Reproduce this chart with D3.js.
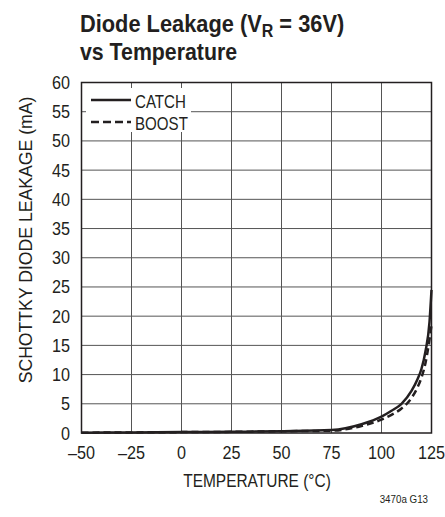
<!DOCTYPE html>
<html>
<head>
<meta charset="utf-8">
<script src="https://cdn.jsdelivr.net/npm/d3@7"></script>
<style>
  body { margin: 0; background: #fff; }
  svg { display: block; }
  text { font-family: "Liberation Sans", Arial, sans-serif; fill: #231f20; }
</style>
</head>
<body>
<svg></svg>
<script>
// Temperature (°C) sample points
const temps = [-50, -25, 0, 25, 50, 75, 90, 100, 105, 110, 115, 118, 120, 122, 124, 125];
// leakage in mA
const catchLeak = [0.05, 0.1, 0.15, 0.2, 0.3, 0.5, 1.5, 2.8, 3.8, 5.0, 7.2, 9.2, 11, 14, 19, 24.5];
const boostLeak = [0.05, 0.1, 0.15, 0.2, 0.3, 0.4, 1.2, 2.3, 3.1, 4.2, 6.0, 7.8, 9.5, 12, 16, 18.5];

const xTicks = [-50, -25, 0, 25, 50, 75, 100, 125];
const yTicks = [0, 5, 10, 15, 20, 25, 30, 35, 40, 45, 50, 55, 60];

const width = 445, height = 517;
const margin = { left: 81.5, right: 13.5, top: 82.5, bottom: 84 };

const svg = d3.select("svg")
  .attr("width", width)
  .attr("height", height);

const x = d3.scaleLinear().domain([-50, 125]).range([margin.left, width - margin.right]);
const y = d3.scaleLinear().domain([0, 60]).range([height - margin.bottom, margin.top]);

// the original uses a condensed face, so squeeze text horizontally
function label(parent, px, py, str, size, sx, anchor, rot) {
  const t = parent.append("text")
    .attr("transform", `translate(${px},${py})` + (rot ? ` rotate(${rot})` : "") + ` scale(${sx},1)`)
    .attr("text-anchor", anchor || "start")
    .style("font-size", size + "px");
  if (str != null) t.text(str);
  return t;
}

// title
const title = label(svg, 80, 32, null, 24.5, 0.89, "start").style("font-weight", "bold");
title.append("tspan").text("Diode Leakage (V");
title.append("tspan").attr("dy", 5).style("font-size", "18px").text("R");
title.append("tspan").attr("dy", -5).text(" = 36V)");
label(svg, 80, 60, "vs Temperature", 24.5, 0.87, "start").style("font-weight", "bold");

// grid
svg.append("g")
  .selectAll("line")
  .data(xTicks.slice(1, -1))
  .join("line")
  .attr("x1", d => x(d)).attr("x2", d => x(d))
  .attr("y1", y(60)).attr("y2", y(0))
  .attr("stroke", "#555").attr("stroke-width", 1);

svg.append("g")
  .selectAll("line")
  .data(yTicks.slice(1, -1))
  .join("line")
  .attr("x1", x(-50)).attr("x2", x(125))
  .attr("y1", d => y(d)).attr("y2", d => y(d))
  .attr("stroke", "#555").attr("stroke-width", 1);

// frame
svg.append("rect")
  .attr("x", x(-50)).attr("y", y(60))
  .attr("width", x(125) - x(-50)).attr("height", y(0) - y(60))
  .attr("fill", "none").attr("stroke", "#231f20").attr("stroke-width", 1.5);

// tick labels
const yl = svg.append("g");
yTicks.forEach(d => label(yl, 70, y(d) + 6.5, d, 18, 0.9, "end"));

const xl = svg.append("g");
xTicks.forEach(d => label(xl, x(d), 458.5, d < 0 ? "\u2013" + Math.abs(d) : d, 18, 0.9, "middle"));

// axis titles
label(svg, 257, 487, "TEMPERATURE (°C)", 18, 0.86, "middle");
label(svg, 32, 240, "SCHOTTKY DIODE LEAKAGE (mA)", 18, 0.98, "middle", -90);
label(svg, 428, 503, "3470a G13", 11.5, 0.85, "end");

// curves
const line = d3.line()
  .x((d, i) => x(temps[i]))
  .y(d => y(d))
  .curve(d3.curveMonotoneX);

svg.append("path")
  .attr("d", line(boostLeak))
  .attr("fill", "none").attr("stroke", "#231f20")
  .attr("stroke-width", 2.5).attr("stroke-dasharray", "7,4");

svg.append("path")
  .attr("d", line(catchLeak))
  .attr("fill", "none").attr("stroke", "#231f20")
  .attr("stroke-width", 2.5);

// legend
const lg = svg.append("g");
lg.append("rect")
  .attr("x", 86).attr("y", 88).attr("width", 105).attr("height", 44)
  .attr("fill", "#fff");
lg.append("line")
  .attr("x1", 91).attr("x2", 131).attr("y1", 100).attr("y2", 100)
  .attr("stroke", "#231f20").attr("stroke-width", 2.5);
lg.append("line")
  .attr("x1", 91).attr("x2", 131).attr("y1", 122).attr("y2", 122)
  .attr("stroke", "#231f20").attr("stroke-width", 2.5).attr("stroke-dasharray", "8,4");
label(lg, 135, 108, "CATCH", 18, 0.84, "start");
label(lg, 135, 130, "BOOST", 18, 0.84, "start");
</script>
</body>
</html>
